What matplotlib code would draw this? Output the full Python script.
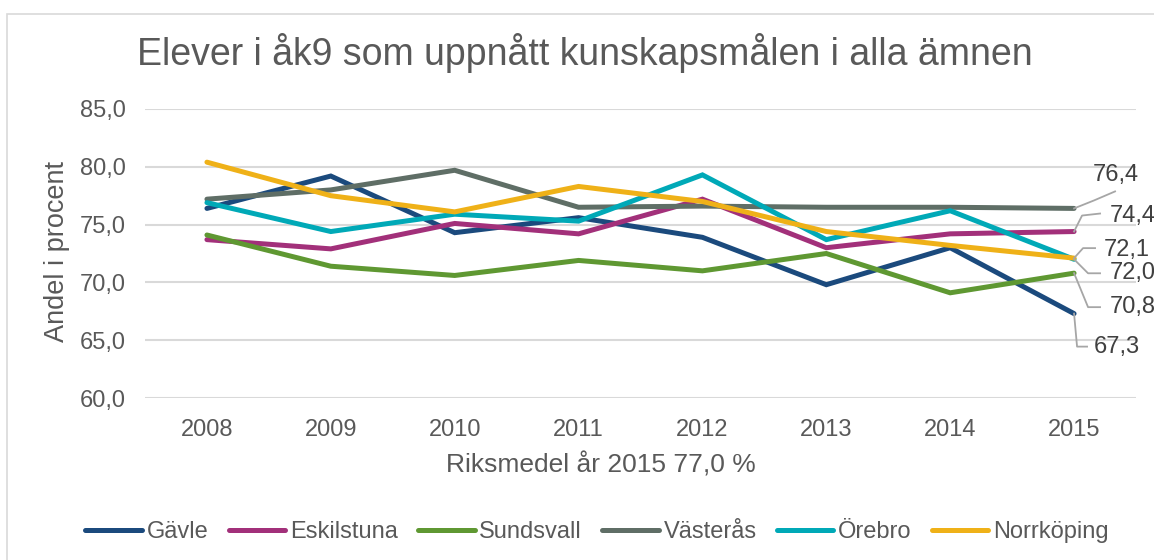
import matplotlib
matplotlib.use("Agg")
import matplotlib.pyplot as plt
from matplotlib.lines import Line2D
from matplotlib.patches import Rectangle

plt.rcParams["font.family"] = ["Liberation Sans", "DejaVu Sans"]

# Data
years = ["2008", "2009", "2010", "2011", "2012", "2013", "2014", "2015"]
gavle = [76.4, 79.2, 74.3, 75.6, 73.9, 69.8, 73.0, 67.3]
eskilstuna = [73.7, 72.9, 75.1, 74.2, 77.2, 73.0, 74.2, 74.4]
sundsvall = [74.1, 71.4, 70.6, 71.9, 71.0, 72.5, 69.1, 70.8]
vasteras = [77.2, 78.0, 79.7, 76.5, 76.6, 76.5, 76.5, 76.4]
orebro = [76.9, 74.4, 75.9, 75.3, 79.3, 73.7, 76.2, 72.0]
norrkoping = [80.4, 77.5, 76.1, 78.3, 77.0, 74.4, 73.2, 72.1]
names = ["Gävle", "Eskilstuna", "Sundsvall", "Västerås", "Örebro", "Norrköping"]
yticks = [60, 65, 70, 75, 80, 85]

series = [gavle, eskilstuna, sundsvall, vasteras, orebro, norrkoping]
colors = ["#1b4a7d", "#a2307a", "#5f9832", "#5f6e66", "#00a9b7", "#efb118"]
text_col = "#595959"
lead_col = "#a6a6a6"

# label leader (elbow point, line end, text left) offsets in pixels, y down
label_offsets = {
    "Gävle": [(3, 33), (13, 33), (20, 33)],
    "Eskilstuna": [(8, -16), (26, -18), (36, -16)],
    "Sundsvall": [(14, 34), (26, 34), (36, 34)],
    "Västerås": [(20, -8), (41, -17), (19, -33)],
    "Örebro": [(14, 14), (26, 14), (36, 14)],
    "Norrköping": [(9, -10), (21, -10), (30, -8)],
}

W, H = 1154, 560
fig = plt.figure(figsize=(W / 100, H / 100), dpi=100)
fig.patch.set_facecolor("white")

# chart border
fig.add_artist(Rectangle((7 / W, -0.1), 1.2, 1 - 14 / H + 0.1, transform=fig.transFigure,
                         fill=False, edgecolor="#d9d9d9", lw=1.2))

left, right, top, bottom = 145, 1136, 109, 398
ax = fig.add_axes([left / W, 1 - bottom / H, (right - left) / W, (bottom - top) / H])

x = list(range(len(years)))
for vals, name, col in zip(series, names, colors):
    ax.plot(x, vals, color=col, lw=3.6, label=name, solid_capstyle="round",
            solid_joinstyle="miter", zorder=3)

ax.set_xlim(-0.5, len(years) - 0.5)
ax.set_ylim(60, 85)
ax.set_xticks(x)
ax.set_xticklabels(years)
ax.set_yticks(yticks)
ax.set_yticklabels([f"{v:.1f}".replace(".", ",") for v in yticks])
ax.grid(axis="y", color="#d9d9d9", lw=1.5)
ax.set_axisbelow(True)
for s in ax.spines.values():
    s.set_visible(False)
ax.tick_params(axis="both", length=0, colors=text_col, labelsize=17)
ax.tick_params(axis="x", pad=15)
ax.tick_params(axis="y", pad=14)

fig.text(57 / W, 1 - 252 / H, "Andel i procent", fontsize=19.5, color=text_col,
         rotation=90, ha="center", va="center")
fig.text(585 / W, 1 - 53 / H, "Elever i åk9 som uppnått kunskapsmålen i alla ämnen",
         fontsize=27, color=text_col, ha="center", va="center")
fig.text(601 / W, 1 - 465 / H, "Riksmedel år 2015 77,0 %", fontsize=19,
         color=text_col, ha="center", va="center")

# data labels at last point
for vals, name in zip(series, names):
    px, py = ax.transData.transform((x[-1], vals[-1]))
    (ex, ey), (lx, ly), (tx, ty) = label_offsets[name]
    fig.add_artist(Line2D([px, px + ex, px + lx], [py, py - ey, py - ly],
                          transform=None, color=lead_col, lw=1.3, zorder=5))
    fig.text((px + tx) / W, (py - ty) / H, f"{vals[-1]:.1f}".replace(".", ","),
             fontsize=17, color="#404040", ha="left", va="center")

fig.legend(loc="center", bbox_to_anchor=(597 / W, 1 - 532 / H), ncol=6, frameon=False,
           fontsize=17, labelcolor=text_col, handlelength=2.4, handletextpad=0.2,
           columnspacing=0.85)

fig.savefig("out.png", dpi=100)
